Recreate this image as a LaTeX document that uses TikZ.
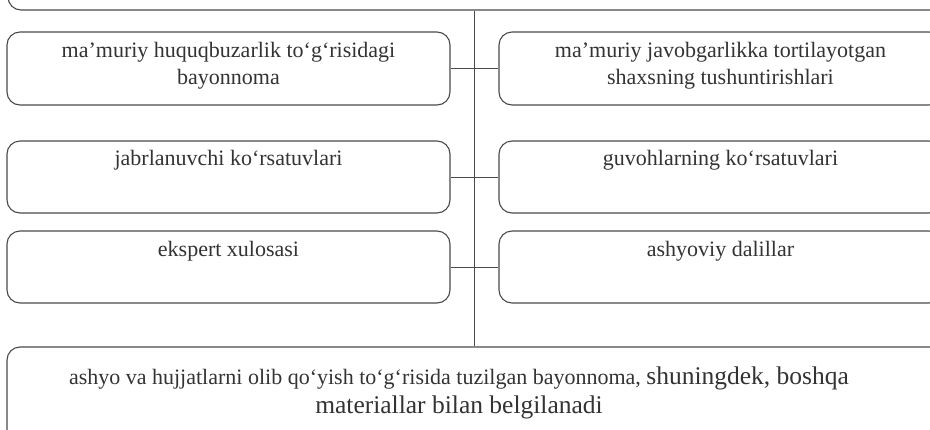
\documentclass[tikz,border=0pt]{standalone}
\usepackage{fontspec}
\setmainfont{Liberation Serif}
\definecolor{linec}{HTML}{4A4A4A}
\definecolor{textc}{HTML}{333333}
\begin{document}
\begin{tikzpicture}[x=1pt,y=-1pt,
  box/.style={draw=linec, line width=1.1pt, rounded corners=13pt, inner sep=0pt},
  txt/.style={text=textc, font=\fontsize{22}{27}\selectfont, align=center, inner sep=0pt},
  big/.style={text=textc, font=\fontsize{22}{29}\selectfont, align=center, inner sep=0pt},
  conn/.style={draw=linec, line width=1pt}]
\useasboundingbox (0,0) rectangle (930,429);
\clip (0,0) rectangle (930,429);
% boxes
\node[box, minimum width=942pt, minimum height=40pt] (top) at (479,-10) {};
\node[box, minimum width=443pt, minimum height=73pt] (l1) at (228.5,68.5) {};
\node[box, minimum width=443pt, minimum height=72pt] (l2) at (228.5,177) {};
\node[box, minimum width=443pt, minimum height=72pt] (l3) at (228.5,267) {};
\node[box, minimum width=443pt, minimum height=73pt] (r1) at (720.5,68.5) {};
\node[box, minimum width=443pt, minimum height=72pt] (r2) at (720.5,177) {};
\node[box, minimum width=443pt, minimum height=72pt] (r3) at (720.5,267) {};
\node[box, minimum width=953pt, minimum height=113pt] (bot) at (483.5,403.5) {};
% connectors
\coordinate (vt) at (474,0);
\draw[conn] (top.south -| vt) -- (bot.north -| vt);
\draw[conn] (l1.east) -- (r1.west);
\draw[conn] (l2.east) -- (r2.west);
\draw[conn] (l3.east) -- (r3.west);
% texts
\node[txt, anchor=base] (t1) at (228.5,84) {ma’muriy huquqbuzarlik to‘g‘risidagi\\bayonnoma};
\node[txt, anchor=base] (t2) at (720.5,84) {ma’muriy javobgarlikka tortilayotgan\\shaxsning tushuntirishlari};
\node[txt, anchor=base] (t3) at (228.5,165) {jabrlanuvchi ko‘rsatuvlari};
\node[txt, anchor=base] (t4) at (720.5,165) {guvohlarning ko‘rsatuvlari};
\node[txt, anchor=base] (t5) at (228.5,256) {ekspert xulosasi};
\node[txt, anchor=base] (t6) at (720.5,256) {ashyoviy dalillar};
\node[big, anchor=base] (t7) at (459,413) {ashyo va hujjatlarni olib qo‘yish to‘g‘risida tuzilgan bayonnoma, {\fontsize{25.5}{29}\selectfont shuningdek, boshqa}\\{\fontsize{25.5}{29}\selectfont materiallar bilan belgilanadi}};
\end{tikzpicture}
\end{document}
